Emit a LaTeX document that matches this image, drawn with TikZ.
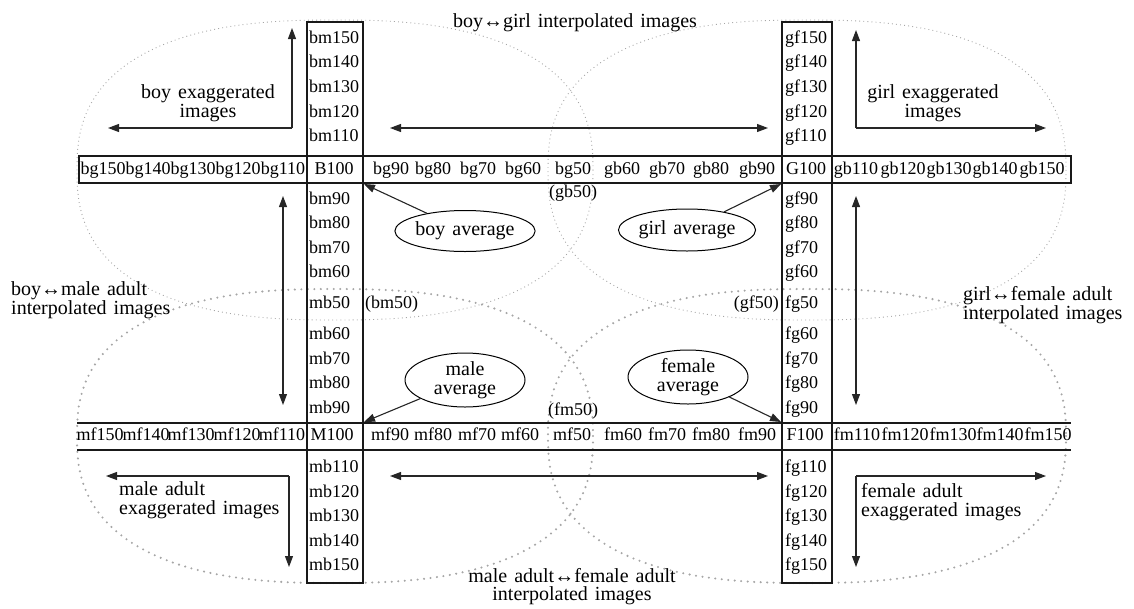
\documentclass[tikz,border=0pt]{standalone}
\usepackage{fontspec}
\setmainfont{Liberation Serif}
\usetikzlibrary{arrows.meta,shapes.geometric}
\newcommand\wsp{\spaceskip=7pt plus 1pt minus 1pt\relax}
\begin{document}
\begin{tikzpicture}[x=1pt,y=-1pt,
  declare function={se(\t)=sign(\t)*(abs(\t)+0.00001)^0.8;},
  cell/.style={font=\fontsize{18}{19}\selectfont, inner sep=0pt, text height=11pt, text depth=3pt},
  lbl/.style={font=\fontsize{20}{19.5}\selectfont\wsp, inner sep=0pt},
  avg/.style={ellipse, draw, line width=1pt, inner sep=0pt, font=\fontsize{20}{18.5}\selectfont\wsp, align=center},
  frame/.style={line width=2.2pt, black!90},
  topell/.style={gray!70, line width=0.9pt, dash pattern=on 0.9pt off 3.2pt},
  botell/.style={gray!70, line width=2.3pt, line cap=round, dash pattern=on 0pt off 6.5pt},
  arr/.style={line width=1.1pt, black!85, -{Triangle[length=11pt,width=8pt]}},
  darr/.style={line width=1.1pt, black!85, {Triangle[length=11pt,width=8pt]}-{Triangle[length=11pt,width=8pt]}}
]
\useasboundingbox (0,0) rectangle (1134,608);

% big dotted regions
\draw[topell] plot[domain=0:360,samples=241] ({335+258*se(cos(\x))},{170+150*se(sin(\x))}) -- cycle;
\draw[topell] plot[domain=0:360,samples=241] ({807+259*se(cos(\x))},{170+150*se(sin(\x))}) -- cycle;
\draw[botell] plot[domain=0:360,samples=241] ({335+258*se(cos(\x))},{436+147*se(sin(\x))}) -- cycle;
\draw[botell] plot[domain=0:360,samples=241] ({807+259*se(cos(\x))},{436+147*se(sin(\x))}) -- cycle;

% frames
\draw[frame] (307,22) rectangle (363,583);
\draw[frame] (782,22) rectangle (832,583);
\draw[frame] (79,156) rectangle (1071,183);
\draw[frame] (77,423) -- (1071,423);
\draw[frame] (77,450) -- (1071,450);

% left column
\foreach \t/\y in {bm150/39,bm140/63,bm130/88,bm120/113,bm110/137,bm90/200,bm80/224,bm70/249,bm60/273,mb50/304,mb60/335,mb70/360,mb80/384,mb90/409,mb110/468,mb120/493,mb130/517,mb140/542,mb150/566}
  \node[cell,anchor=west] (\t) at (309,\y) {\t};
% right column
\foreach \t/\y in {gf150/39,gf140/63,gf130/88,gf120/113,gf110/137,gf90/200,gf80/224,gf70/249,gf60/273,fg50/304,fg60/335,fg70/360,fg80/384,fg90/409,fg110/468,fg120/493,fg130/517,fg140/542,fg150/566}
  \node[cell,anchor=west] (\t) at (785,\y) {\t};

% top row
\foreach \t/\x in {bg150/103,bg140/148,bg130/193,bg120/238,bg110/283,B100/334,bg90/391,bg80/433,bg70/478,bg60/523,bg50/573,gb60/622,gb70/667,gb80/711,gb90/757,G100/806,gb110/856,gb120/903,gb130/949,gb140/995,gb150/1042}
  \node[cell] (\t) at (\x,170) {\t};
% bottom row
\foreach \t/\x in {mf150/100,mf140/146,mf130/191,mf120/237,mf110/282,M100/332,mf90/390,mf80/433,mf70/477,mf60/520,mf50/572,fm60/623,fm70/667,fm80/711,fm90/757,F100/805,fm110/857,fm120/905,fm130/953,fm140/1000,fm150/1048}
  \node[cell] (\t) at (\x,436) {\t};

% intermediate labels
\node[cell] (gb50) at (573,193) {(gb50)};
\node[cell,anchor=west] (bm50) at (365,304) {(bm50)};
\node[cell,anchor=east] (gf50) at (779,304) {(gf50)};
\node[cell] (fm50) at (573,411) {(fm50)};

% titles
\node[lbl] (tBG) at (575,23) {boy↔girl interpolated images};
\node[lbl,align=center] (tBex) at (208,103) {boy exaggerated\\images};
\node[lbl,align=center] (tGex) at (933,103) {girl exaggerated\\images};
\node[lbl,align=left,anchor=west] (tBM) at (11,300) {boy↔male adult\\interpolated images};
\node[lbl,align=left,anchor=west] (tGF) at (963,305) {girl↔female adult\\interpolated images};
\node[lbl,align=left,anchor=west] (tMex) at (119,500) {male adult\\exaggerated images};
\node[lbl,align=left,anchor=west] (tFex) at (861,502) {female adult\\exaggerated images};
\node[lbl,align=center,font=\fontsize{20}{18}\selectfont\wsp] (tMF) at (572,587) {male adult↔female adult\\interpolated images};

% averages
\node[avg,minimum width=115pt,minimum height=41pt] (boyavg) at (465,231) {boy average};
\node[avg,minimum width=115pt,minimum height=42pt] (girlavg) at (687,230) {girl average};
\node[avg,minimum width=120pt,minimum height=54pt] (maleavg) at (465,380) {male\\average};
\node[avg,minimum width=120pt,minimum height=54pt] (femavg) at (688,377) {female\\average};

\coordinate (cB) at (364,184);
\coordinate (cG) at (781,184);
\coordinate (cM) at (364,422);
\coordinate (cF) at (781,422);
\draw[arr] (boyavg) -- (cB);
\draw[arr] (girlavg) -- (cG);
\draw[arr] (maleavg) -- (cM);
\draw[arr] (femavg) -- (cF);

% exaggeration arrows
\coordinate (kTL) at (292,128);
\coordinate (kTLu) at (292,28);
\coordinate (kTLl) at (108,128);
\draw[arr] (kTL) -- (kTLu);
\draw[arr] (kTL) -- (kTLl);

\coordinate (kTR) at (856,128);
\coordinate (kTRu) at (856,30);
\coordinate (kTRr) at (1046,128);
\draw[arr] (kTR) -- (kTRu);
\draw[arr] (kTR) -- (kTRr);

\coordinate (kBL) at (289,476);
\coordinate (kBLl) at (106,476);
\coordinate (kBLd) at (289,567);
\draw[arr] (kBL) -- (kBLl);
\draw[arr] (kBL) -- (kBLd);

\coordinate (kBR) at (856,476);
\coordinate (kBRr) at (1046,476);
\coordinate (kBRd) at (856,567);
\draw[arr] (kBR) -- (kBRr);
\draw[arr] (kBR) -- (kBRd);

% interpolation arrows
\coordinate (hT1) at (390,128);
\coordinate (hT2) at (768,128);
\draw[darr] (hT1) -- (hT2);
\coordinate (hB1) at (390,476);
\coordinate (hB2) at (768,476);
\draw[darr] (hB1) -- (hB2);
\coordinate (vL1) at (283,196);
\coordinate (vL2) at (283,405);
\draw[darr] (vL1) -- (vL2);
\coordinate (vR1) at (856,196);
\coordinate (vR2) at (856,405);
\draw[darr] (vR1) -- (vR2);
\end{tikzpicture}
\end{document}
